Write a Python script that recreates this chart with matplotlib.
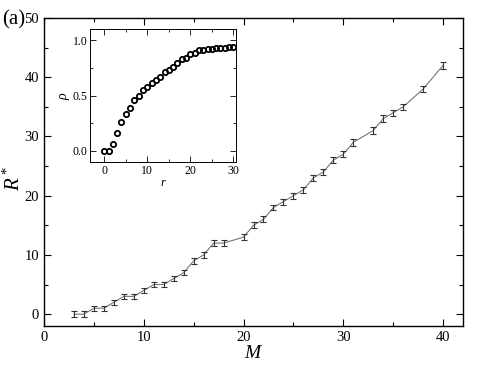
import numpy as np
import matplotlib
matplotlib.use("Agg")
import matplotlib.pyplot as plt
from matplotlib.ticker import MultipleLocator

plt.rcParams['font.family'] = ['Liberation Serif', 'DejaVu Serif']
plt.rcParams['mathtext.fontset'] = 'custom'
plt.rcParams['mathtext.it'] = 'Liberation Serif:italic'
plt.rcParams['mathtext.rm'] = 'Liberation Serif'

# main panel: R* vs M
M = [3, 4, 5, 6, 7, 8, 9, 10, 11, 12, 13, 14, 15, 16, 17, 18,
     20, 21, 22, 23, 24, 25, 26, 27, 28, 29, 30, 31, 33, 34, 35, 36, 38, 40]
R_star = [0, 0, 1, 1, 2, 3, 3, 4, 5, 5, 6, 7, 9, 10, 12, 12,
          13, 15, 16, 18, 19, 20, 21, 23, 24, 26, 27, 29, 31, 33, 34, 35, 38, 42]
R_err = [0.45, 0.45, 0.45, 0.45, 0.45, 0.45, 0.45, 0.45, 0.45, 0.45, 0.45, 0.45,
         0.5, 0.5, 0.5, 0.5, 0.5, 0.5, 0.5, 0.5, 0.5, 0.5, 0.5, 0.5, 0.5, 0.5,
         0.55, 0.55, 0.55, 0.55, 0.55, 0.55, 0.55, 0.55]

# inset: rho vs r
r = list(range(31))
rho = [0.0, 0.0, 0.06, 0.16, 0.26, 0.33, 0.39, 0.46, 0.50, 0.55, 0.58,
       0.61, 0.64, 0.67, 0.71, 0.73, 0.76, 0.79, 0.83, 0.84, 0.87,
       0.88, 0.91, 0.91, 0.92, 0.92, 0.93, 0.93, 0.93, 0.94, 0.94]

fig = plt.figure(figsize=(4.8, 3.71), dpi=100)
W, H = 480, 371
ax = fig.add_axes([44 / W, 1 - 326 / H, (463 - 44) / W, (326 - 18) / H])

ax.plot(M, R_star, color='#777777', lw=0.8)
ax.errorbar(M, R_star, yerr=R_err, fmt='none', ecolor='#333333',
            elinewidth=0.8, capsize=2.4, capthick=0.8)

ax.set_xlim(0, 42)
ax.set_ylim(-2, 50)
ax.xaxis.set_major_locator(MultipleLocator(10))
ax.xaxis.set_minor_locator(MultipleLocator(5))
ax.yaxis.set_major_locator(MultipleLocator(10))
ax.yaxis.set_minor_locator(MultipleLocator(5))
ax.tick_params(which='both', direction='in', top=True, right=True, labelsize=10.5)
ax.tick_params(which='major', length=5, width=0.8)
ax.tick_params(which='minor', length=3, width=0.8)
ax.set_yticks([0, 10, 20, 30, 40, 50])
for s in ax.spines.values():
    s.set_linewidth(1.0)
ax.set_xlabel(r'$M$', fontsize=14, labelpad=1)
ax.set_ylabel(r'$R^*$', fontsize=15)
ax.yaxis.set_label_coords(-0.045, 0.48)
fig.text(2 / W, 1 - 24 / H, '(a)', fontsize=15)

# inset
ins = fig.add_axes([90 / W, 1 - 162 / H, (236 - 90) / W, (162 - 29) / H])
ins.plot(r, rho, 'o', mfc='none', mec='black', mew=1.3, ms=3.8)
ins.set_xlim(-3.3, 30.6)
ins.set_ylim(-0.1, 1.1)
ins.xaxis.set_major_locator(MultipleLocator(10))
ins.xaxis.set_minor_locator(MultipleLocator(5))
ins.set_yticks([0.0, 0.5, 1.0])
ins.set_yticklabels(['0.0', '0.5', '1.0'])
ins.yaxis.set_minor_locator(MultipleLocator(0.25))
ins.tick_params(which='both', direction='in', top=True, right=True, labelsize=8.5, pad=2)
ins.tick_params(which='major', length=4, width=0.6)
ins.tick_params(which='minor', length=2, width=0.6)
for s in ins.spines.values():
    s.set_linewidth(0.7)
ins.set_xlabel(r'$r$', fontsize=9, labelpad=0)
ins.set_ylabel(r'$\rho$', fontsize=10, labelpad=0)

fig.savefig('out.png', dpi=100)
